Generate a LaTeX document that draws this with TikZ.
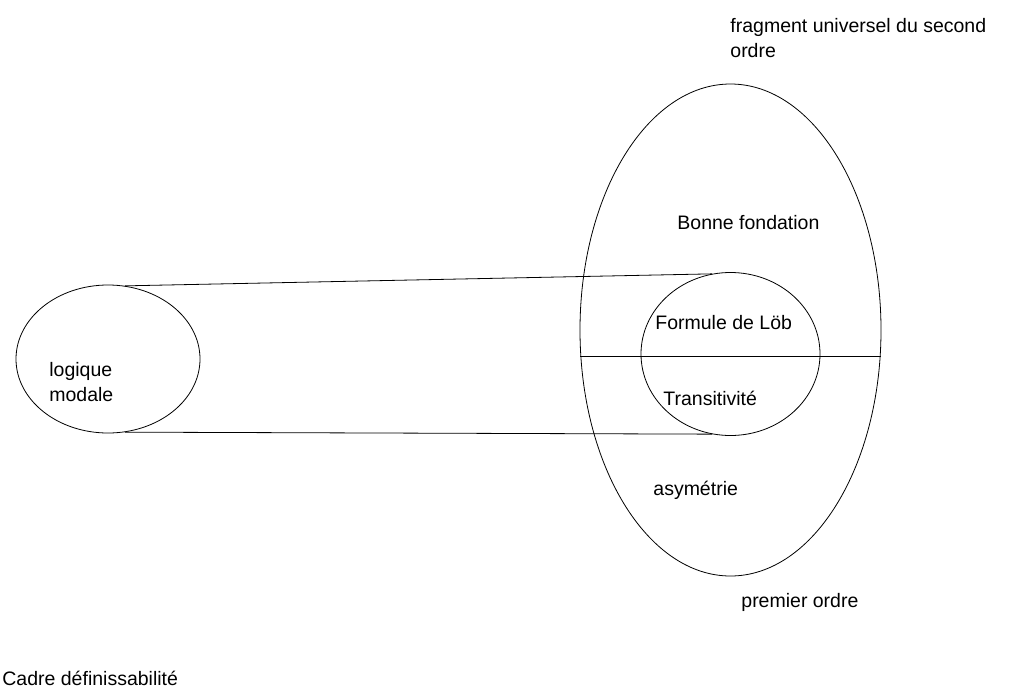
\documentclass[tikz,border=0pt]{standalone}
\usepackage{fontspec}
\setmainfont{Liberation Sans}
\usetikzlibrary{shapes.geometric}

\begin{document}
\begin{tikzpicture}[x=1pt,y=-1pt,line width=0.8pt,
  cadre/.style={draw,ellipse,inner sep=0pt},
  etiq/.style={anchor=base west,inner sep=0pt,font=\fontsize{19.5}{25}\selectfont,align=left}]

  \useasboundingbox (0,0) rectangle (1017,691);

  % les ensembles
  \node[cadre,minimum width=301pt,minimum height=492pt] (ordre) at (730.5,330) {};
  \node[cadre,minimum width=179pt,minimum height=163pt] (lob) at (730.5,354) {};
  \node[cadre,minimum width=184pt,minimum height=148pt] (modal) at (108,359) {};

  % liaisons
  \draw (modal.77) -- (lob.103);
  \draw (modal.-77) -- (lob.-103);
  \draw (ordre.190) -- (ordre.-10);

  % textes
  \node[etiq] (frag) at (730,57) {fragment universel du second\\ordre};
  \node[etiq] (fond) at (677,229) {Bonne fondation};
  \node[etiq] (form) at (655,329) {Formule de Löb};
  \node[etiq] (trans) at (663,405) {Transitivité};
  \node[etiq] (asym) at (653,495) {asymétrie};
  \node[etiq] (prem) at (741,607) {premier ordre};
  \node[etiq] (logm) at (49,401) {logique\\modale};
  \node[etiq] (cadr) at (2,685) {Cadre définissabilité};

\end{tikzpicture}
\end{document}
